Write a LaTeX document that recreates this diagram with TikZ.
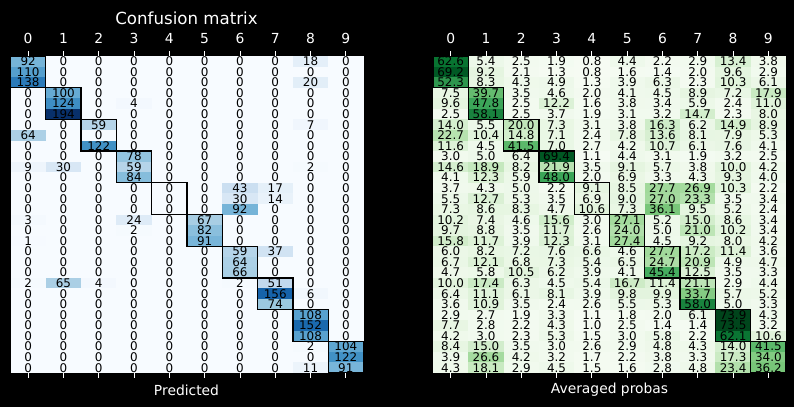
\documentclass[tikz,border=0pt]{standalone}
\usepackage{fontspec}
\setmainfont{DejaVu Sans}
\definecolor{B0}{HTML}{F7FBFF}\definecolor{B1}{HTML}{DEEBF7}\definecolor{B2}{HTML}{C6DBEF}
\definecolor{B3}{HTML}{9ECAE1}\definecolor{B4}{HTML}{6BAED6}\definecolor{B5}{HTML}{4292C6}
\definecolor{B6}{HTML}{2171B5}\definecolor{B7}{HTML}{08519C}\definecolor{B8}{HTML}{08306B}
\definecolor{G0}{HTML}{F7FCF5}\definecolor{G1}{HTML}{E5F5E0}\definecolor{G2}{HTML}{C7E9C0}
\definecolor{G3}{HTML}{A1D99B}\definecolor{G4}{HTML}{74C476}\definecolor{G5}{HTML}{41AB5D}
\definecolor{G6}{HTML}{238B45}\definecolor{G7}{HTML}{006D2C}\definecolor{G8}{HTML}{00441B}
\newcommand\cmfill[3]{%
  \pgfmathsetmacro\cmT{#2/#3*8}%
  \pgfmathtruncatemacro\cmI{min(floor(\cmT),7)}%
  \pgfmathtruncatemacro\cmJ{\cmI+1}%
  \pgfmathsetmacro\cmP{(1-(\cmT-\cmI))*100}%
  \colorlet{cc}{#1\cmI!\cmP!#1\cmJ}}
\def\Ldata{{92,0,0,0,0,0,0,0,18,0},{110,0,0,0,0,0,0,0,0,0},{138,0,0,0,0,0,0,0,20,0},
{0,100,0,0,0,0,0,0,0,0},{0,124,0,4,0,0,0,0,0,0},{0,194,0,0,0,0,0,0,0,0},
{0,0,59,0,0,0,0,0,7,0},{64,0,0,0,0,0,0,0,0,0},{0,0,122,0,0,0,0,0,0,0},
{0,0,0,78,0,0,0,0,0,0},{9,30,0,59,0,0,0,0,2,0},{0,0,0,84,0,0,0,0,0,0},
{0,0,0,0,0,0,43,17,0,0},{0,0,0,0,0,0,30,14,0,0},{0,0,0,0,0,0,92,0,0,0},
{3,0,0,24,0,67,0,0,0,0},{0,0,0,2,0,82,0,0,0,0},{1,0,0,0,0,91,0,0,0,0},
{0,0,0,0,0,0,59,37,0,0},{0,0,0,0,0,0,64,0,0,0},{0,0,0,0,0,0,66,0,0,0},
{2,65,4,0,0,0,2,51,0,0},{0,0,0,0,0,0,0,156,6,0},{0,0,0,0,0,0,0,74,0,0},
{0,0,0,0,0,0,0,0,108,0},{0,0,0,0,0,0,0,0,152,0},{0,0,0,0,0,0,0,0,108,0},
{0,0,0,0,0,0,0,0,2,104},{0,0,0,0,0,0,0,0,0,122},{0,0,0,0,0,0,0,0,11,91}}
\def\Rdata{{62.6,5.4,2.5,1.9,0.8,4.4,2.2,2.9,13.4,3.8},
{69.2,9.2,2.1,1.3,0.8,1.6,1.4,2.0,9.6,2.9},
{52.3,8.3,4.3,4.9,1.3,3.9,6.3,2.3,10.3,6.1},
{7.5,39.7,3.5,4.6,2.0,4.1,4.5,8.9,7.2,17.9},
{9.6,47.8,2.5,12.2,1.6,3.8,3.4,5.9,2.4,11.0},
{2.5,58.1,2.5,3.7,1.9,3.1,3.2,14.7,2.3,8.0},
{14.0,5.5,20.0,7.3,3.1,3.8,16.3,6.2,14.9,8.9},
{22.7,10.4,14.8,7.1,2.4,7.8,13.6,8.1,7.9,5.3},
{11.6,4.5,41.5,7.0,2.7,4.2,10.7,6.1,7.6,4.1},
{3.0,5.0,6.4,69.4,1.1,4.4,3.1,1.9,3.2,2.5},
{14.6,18.9,8.2,21.9,3.5,9.1,5.7,3.8,10.0,4.2},
{4.1,12.3,5.9,48.0,2.0,6.9,3.3,4.3,9.3,4.0},
{3.7,4.3,5.0,2.2,9.1,8.5,27.7,26.9,10.3,2.2},
{5.5,12.7,5.3,3.5,6.9,9.0,27.0,23.3,3.5,3.4},
{7.3,8.6,8.3,4.7,10.6,7.3,36.1,9.5,5.2,2.4},
{10.2,7.4,4.6,15.6,3.0,27.1,5.2,15.0,8.6,3.4},
{9.7,8.8,3.5,11.7,2.6,24.0,5.0,21.0,10.2,3.4},
{15.8,11.7,3.9,12.3,3.1,27.4,4.5,9.2,8.0,4.2},
{6.0,8.2,7.2,7.6,6.6,4.6,27.7,17.2,11.4,3.6},
{6.7,12.1,6.8,7.3,5.4,6.5,24.7,20.9,4.9,4.7},
{4.7,5.8,10.5,6.2,3.9,4.1,45.4,12.5,3.5,3.3},
{10.0,17.4,6.3,4.5,5.4,16.7,11.4,21.1,2.9,4.4},
{6.4,11.1,6.1,8.1,3.9,9.8,9.9,33.7,5.7,5.2},
{3.6,10.9,3.5,2.4,2.6,5.5,5.3,58.0,5.0,3.3},
{2.9,2.7,1.9,3.3,1.1,1.8,2.0,6.1,73.9,4.3},
{7.7,2.8,2.2,4.3,1.0,2.5,1.4,1.4,73.5,3.2},
{4.2,3.0,2.3,5.3,1.5,3.0,5.8,2.2,62.1,10.6},
{8.4,15.0,3.5,3.0,2.6,2.9,4.8,4.3,14.0,41.5},
{3.9,26.6,4.2,3.2,1.7,2.2,3.8,3.3,17.3,34.0},
{4.3,18.1,2.9,4.5,1.5,1.6,2.8,4.8,23.4,36.2}}
\def\LX{10.5}\def\RX{433}\def\CW{35.3}\def\TY{56}\def\RH{10.5667}
\begin{document}
\begin{tikzpicture}[x=1bp,y=-1bp,
  cellnum/.style={font=\fontsize{12}{12}\selectfont, inner sep=0pt, text height=8.7bp, text depth=0pt, text=black},
  tickmark/.style={white, line width=0.8bp},
  ticklab/.style={text=white, font=\fontsize{13.9}{14}\selectfont, inner sep=0pt, text height=10.1bp, text depth=0pt},
  axlab/.style={text=white, font=\fontsize{13.9}{14}\selectfont, inner sep=0pt},
  titlelab/.style={text=white, font=\fontsize{16.7}{17}\selectfont, inner sep=0pt},
  classbox/.style={draw=black, line width=1.3bp}]
\fill[black] (0,0) rectangle (794,407);
\useasboundingbox (0,0) rectangle (794,407);
% left fills
\foreach [count=\r from 0] \row in \Ldata {
  \foreach [count=\c from 0] \v in \row {
    \cmfill{B}{\v}{194}
    \fill[cc] ({\LX+\c*\CW},{\TY+\r*\RH}) rectangle ++({\CW+0.3},{\RH+0.3});
  }}
\foreach [count=\r from 0] \row in \Ldata {
  \foreach [count=\c from 0] \v in \row {
    \node[cellnum] (L-\r-\c) at ({\LX+(\c+0.5)*\CW},{\TY+(\r+0.5)*\RH}) {\v};
  }}
% right fills
\foreach [count=\r from 0] \row in \Rdata {
  \foreach [count=\c from 0] \v in \row {
    \cmfill{G}{\v}{73.9}
    \fill[cc] ({\RX+\c*\CW},{\TY+\r*\RH}) rectangle ++({\CW+0.3},{\RH+0.3});
  }}
\foreach [count=\r from 0] \row in \Rdata {
  \foreach [count=\c from 0] \v in \row {
    \node[cellnum] (R-\r-\c) at ({\RX+(\c+0.5)*\CW},{\TY+(\r+0.5)*\RH}) {\v};
  }}
% class boxes
\foreach \k in {0,...,9} {
  \draw[classbox] ({\LX+\k*\CW},{\TY+3*\k*\RH}) rectangle ++(\CW,{3*\RH});
  \draw[classbox] ({\RX+\k*\CW},{\TY+3*\k*\RH}) rectangle ++(\CW,{3*\RH});
}
% ticks
\foreach \c in {0,...,9} {
  \draw[tickmark] ({\LX+(\c+0.5)*\CW},\TY) -- ++(0,-5);
  \draw[tickmark] ({\LX+(\c+0.5)*\CW},373) -- ++(0,5);
  \node[ticklab] (LT\c) at ({\LX+(\c+0.5)*\CW},38.5) {\c};
  \draw[tickmark] ({\RX+(\c+0.5)*\CW},\TY) -- ++(0,-5);
  \draw[tickmark] ({\RX+(\c+0.5)*\CW},373) -- ++(0,5);
  \node[ticklab] (RT\c) at ({\RX+(\c+0.5)*\CW},38.5) {\c};
}
\node[titlelab] (title) at (186.5,18) {Confusion matrix};
\node[axlab] (xl) at (186.5,390) {Predicted};
\node[axlab] (xr) at (609.5,390) {Averaged probas};
\end{tikzpicture}
\end{document}
